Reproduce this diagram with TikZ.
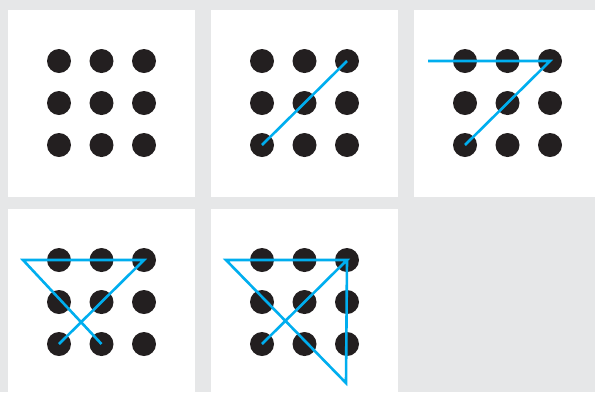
\documentclass[tikz,border=0pt]{standalone}
\usepackage{tikz}
\usetikzlibrary{calc}
\definecolor{fondogris}{RGB}{230,231,232}
\definecolor{puntonegro}{RGB}{35,31,32}
\definecolor{trazoazul}{RGB}{0,174,239}

\begin{document}
\begin{tikzpicture}[x=1pt, y=-1pt,
    punto/.style={circle, fill=puntonegro, inner sep=0pt, minimum size=24pt},
    trazo/.style={trazoazul, line width=2.6pt}]
  % fondo y recorte
  \fill[fondogris] (0,0) rectangle (595,392);
  \useasboundingbox (0,0) rectangle (595,392);
  \clip (0,0) rectangle (595,392);
  % paneles blancos con la grilla de 3x3 puntos
  \foreach \n/\px/\py in {a/8/10, b/211/10, c/414/10, d/8/209, e/211/209} {
    \fill[white] (\px,\py) rectangle ++(187,187);
    \foreach \i/\yy in {1/51, 2/93, 3/135}
      \foreach \j/\xx in {1/51, 2/93.5, 3/136}
        \node[punto] (\n\i\j) at (\px+\xx, \py+\yy) {};
  }
  % patrones
  \draw[trazo] (b31.center) -- (b13.center);
  \coordinate (c0) at (414+14, 10+51);
  \draw[trazo] (c0) -- (c13.center) -- (c31.center);
  \coordinate (d0) at (8+15, 209+51);
  \draw[trazo] (d31.center) -- (d13.center) -- (d0) -- (d32.center);
  \coordinate (e0) at (211+15, 209+51);
  \coordinate (e4) at (211+135, 209+174);
  \draw[trazo] (e31.center) -- (e13.center) -- (e0) -- (e4) -- (e13.center);
\end{tikzpicture}
\end{document}
